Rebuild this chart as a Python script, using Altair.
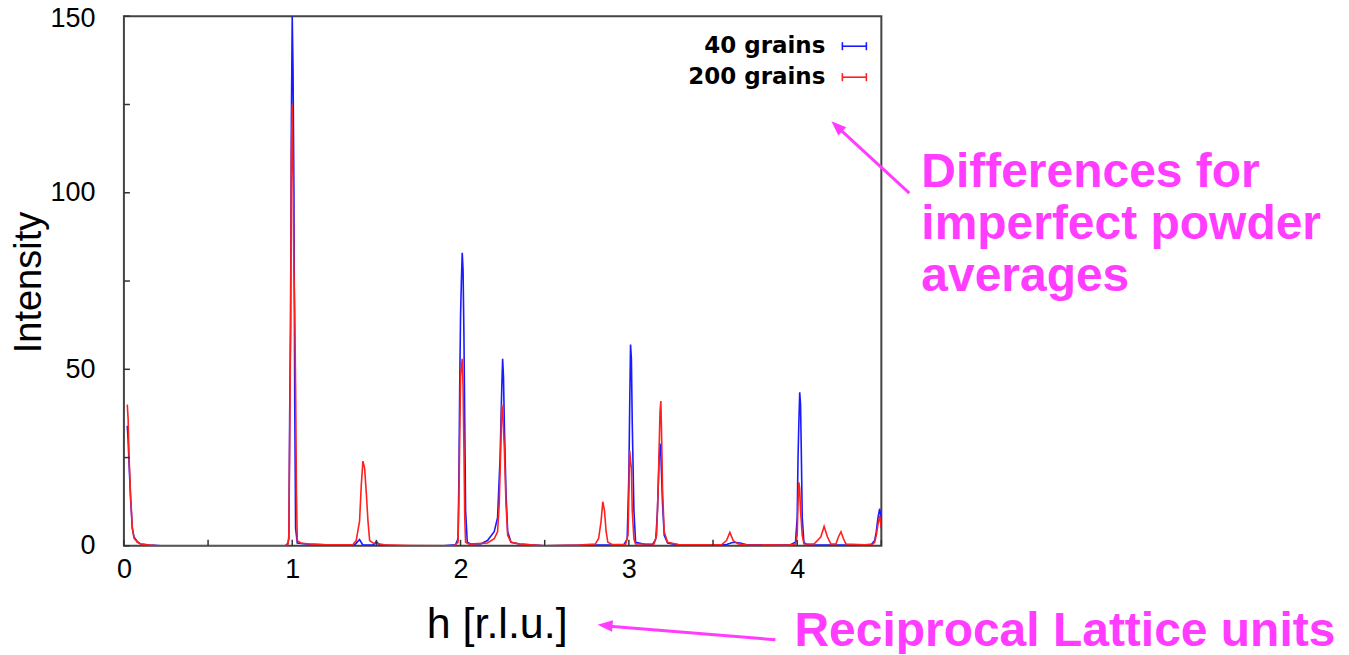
import altair as alt
import pandas as pd

series_names = ["40 grains", "200 grains"]
series_colors = ["#1a1aff", "#ff2020"]

# (h, intensity)
pts_40 = [(0.02,34),(0.025,30),(0.03,24),(0.04,13),(0.05,5),(0.06,2.5),(0.08,1.2),(0.1,0.5),(0.15,0.2),(0.22,0),(0.5,0),
          (0.96,0),(0.975,0.8),(0.98,2),(0.985,38),(0.99,62),(0.995,121),(1.0,150),(1.005,134),(1.01,101),(1.015,40),(1.02,5),
          (1.03,0.8),(1.08,0.5),(1.2,0.3),(1.37,0.2),(1.40,1.8),(1.42,0.2),(1.48,0.2),(1.50,1.2),(1.52,0.2),(1.6,0),(1.9,0),
          (1.97,0.3),(1.985,2),(1.99,18),(1.995,45),(2.0,65),(2.005,75),(2.01,83),(2.015,78),(2.02,60),(2.025,35),(2.03,10),
          (2.04,1),(2.06,0.5),(2.12,0.5),(2.16,1.5),(2.2,4),(2.22,8),(2.235,25),(2.245,45),(2.25,53),(2.255,48),(2.26,35),
          (2.27,15),(2.28,4),(2.3,1),(2.35,0.5),(2.5,0),(2.8,0.2),(2.97,0.3),(2.99,2),(3.0,20),(3.005,40),(3.01,57),(3.015,53),
          (3.02,35),(3.03,10),(3.04,1),(3.1,0.4),(3.14,0.3),(3.16,2),(3.17,10),(3.18,25),(3.185,29),(3.19,26),(3.2,12),(3.21,3),
          (3.23,0.8),(3.3,0.2),(3.55,0.2),(3.58,0.4),(3.62,1.0),(3.66,0.8),(3.7,0.3),(3.96,0.3),(3.99,1),(4.0,8),(4.005,25),
          (4.01,35),(4.015,43.5),(4.02,40),(4.025,25),(4.03,8),(4.04,1),(4.06,0.3),(4.2,0.2),(4.44,0.3),(4.46,1.5),(4.47,4),
          (4.48,8),(4.49,10.5),(4.495,9),(4.5,5)]

pts_200 = [(0.02,40),(0.025,36),(0.03,26),(0.04,14),(0.05,5),(0.06,2.2),(0.08,1),(0.1,0.5),(0.15,0.2),(0.2,0),(0.96,0),
           (0.975,0.5),(0.98,3),(0.985,30),(0.99,60),(0.995,111),(1.0,125),(1.005,103),(1.01,78),(1.015,66),(1.02,45),(1.025,15),
           (1.03,1.5),(1.05,0.8),(1.1,0.5),(1.2,0.3),(1.36,0.3),(1.38,1.5),(1.40,7),(1.41,17),(1.42,24),(1.43,22),(1.44,15),
           (1.45,7),(1.46,1.5),(1.48,0.8),(1.55,0.3),(1.7,0.1),(1.96,0),(1.985,1),(1.99,12),(1.995,30),(2.0,48),(2.01,53),
           (2.015,45),(2.02,28),(2.025,8),(2.03,1),(2.05,0.5),(2.16,0.8),(2.2,2),(2.22,4),(2.23,12),(2.24,30),(2.245,40),
           (2.25,38),(2.26,28),(2.27,12),(2.28,3),(2.3,1),(2.35,0.5),(2.5,0),(2.7,0.2),(2.8,0.5),(2.82,2),(2.835,7),(2.845,12.5),
           (2.855,10),(2.865,4),(2.875,1),(2.9,0.4),(2.98,0.4),(2.995,3),(3.0,15),(3.005,27),(3.01,24),(3.015,22),(3.02,10),
           (3.03,2),(3.04,0.5),(3.15,0.5),(3.165,3),(3.175,18),(3.185,38),(3.19,41),(3.195,30),(3.2,16),(3.21,4),(3.23,1),
           (3.3,0.3),(3.55,0.3),(3.58,1.5),(3.6,3.8),(3.62,1.5),(3.65,0.5),(3.7,0.3),(3.95,0.2),(3.99,0.5),(4.0,3),(4.005,12),
           (4.01,18),(4.015,16),(4.02,10),(4.03,3),(4.04,0.5),(4.1,0.5),(4.14,2.5),(4.16,5.5),(4.18,2.5),(4.2,0.5),(4.23,0.5),
           (4.245,2.5),(4.26,4),(4.275,2),(4.29,0.5),(4.4,0.3),(4.45,0.5),(4.46,1),(4.47,3),(4.48,6),(4.49,8.5),(4.5,5)]

x_label_ticks = [0, 1, 2, 3, 4]
x_all_ticks = [0, 0.5, 1, 1.5, 2, 2.5, 3, 3.5, 4, 4.5]
y_label_ticks = [0, 50, 100, 150]
y_all_ticks = [0, 25, 50, 75, 100, 125, 150]

annot_right = ["Differences for", "imperfect powder", "averages"]
annot_bottom = "Reciprocal Lattice units"
MAGENTA = "#ff3cff"

rows = []
for name, pts in zip(series_names, [pts_40, pts_200]):
    for h, v in pts:
        rows.append({"h": h, "I": v, "series": name})
df = pd.DataFrame(rows)

W, H = 758, 530
xs = alt.Scale(domain=[0, 4.5], nice=False, zero=False)
ys = alt.Scale(domain=[0, 150], nice=False)

x_axis = alt.Axis(
    values=x_label_ticks, title="h [r.l.u.]", ticks=False, domain=False, grid=False,
    labelFont="Liberation Sans", labelFontSize=27, labelPadding=11, labelColor="black",
    labelFlush=False, labelOverlap=False,
    titleFont="Liberation Sans", titleFontSize=43, titleFontWeight="normal", titleColor="black",
    titleX=373, titleY=79, titleBaseline="middle", titleAlign="center")
y_axis = alt.Axis(
    values=y_label_ticks, title="Intensity", ticks=False, domain=False, grid=False,
    labelFont="Liberation Sans", labelFontSize=27, labelPadding=29, labelColor="black",
    labelFlush=False, labelOverlap=False,
    labelOffset={"condition": {"test": "datum.value == 150", "value": 2}, "value": 0},
    titleFont="Liberation Sans", titleFontSize=38, titleFontWeight="normal", titleColor="black",
    titleX=-94, titleY=266, titleBaseline="middle", titleAlign="center", titleAngle=-90)

lines = alt.Chart(df).mark_line(strokeWidth=1.6, clip=True).encode(
    x=alt.X("h:Q", scale=xs, axis=x_axis, title="h [r.l.u.]"),
    y=alt.Y("I:Q", scale=ys, axis=y_axis, title="Intensity"),
    color=alt.Color("series:N", scale=alt.Scale(domain=series_names, range=series_colors), legend=None),
    order=alt.Order("h:Q"),
)

yt = alt.Chart(pd.DataFrame({"I": y_all_ticks})).mark_rule(color="#333", strokeWidth=1.5).encode(
    y=alt.Y("I:Q", scale=ys, axis=y_axis, title="Intensity"), x=alt.value(0), x2=alt.value(6))
xt = alt.Chart(pd.DataFrame({"h": x_all_ticks})).mark_rule(color="#333", strokeWidth=1.5).encode(
    x=alt.X("h:Q", scale=xs, axis=x_axis, title="h [r.l.u.]"), y=alt.value(H), y2=alt.value(H - 6))

legend_layers = []
for i, (name, col) in enumerate(zip(series_names, series_colors)):
    yy = 30 + 31 * i
    d = pd.DataFrame({"name": [name]})
    legend_layers.append(alt.Chart(d).mark_text(align="right", baseline="middle", font="DejaVu Sans",
                                                fontWeight="bold", fontSize=23, color="black").encode(
        text="name:N", x=alt.value(702), y=alt.value(yy)))
    legend_layers.append(alt.Chart(d).mark_rule(color=col, strokeWidth=1.6).encode(
        x=alt.value(719), x2=alt.value(743), y=alt.value(yy)))
    for xx in (719, 743):
        legend_layers.append(alt.Chart(d).mark_rule(color=col, strokeWidth=1.6).encode(
            x=alt.value(xx), y=alt.value(yy - 4), y2=alt.value(yy + 4)))

ann_df = pd.DataFrame({"t": [0]})
ann1 = alt.Chart(ann_df).mark_text(text=annot_right, align="left", baseline="alphabetic", font="Liberation Sans",
                                   fontWeight="bold", fontSize=48, lineHeight=52, color=MAGENTA).encode(
    x=alt.value(798), y=alt.value(171))
ann2 = alt.Chart(ann_df).mark_text(text=annot_bottom, align="left", baseline="alphabetic", font="Liberation Sans",
                                   fontWeight="bold", fontSize=48, color=MAGENTA).encode(
    x=alt.value(671), y=alt.value(630))
arrow1 = alt.Chart(ann_df).mark_rule(color=MAGENTA, strokeWidth=3).encode(
    x=alt.value(786), x2=alt.value(712), y=alt.value(177), y2=alt.value(109))
arrow2 = alt.Chart(ann_df).mark_rule(color=MAGENTA, strokeWidth=3).encode(
    x=alt.value(652), x2=alt.value(480), y=alt.value(624), y2=alt.value(610))
head_shape = "M0,0L-0.38,1L0.38,1Z"
head1 = alt.Chart(ann_df).mark_point(shape=head_shape, filled=True, size=900, angle=313.4,
                                     color=MAGENTA, opacity=1).encode(x=alt.value(708), y=alt.value(105))
head2 = alt.Chart(ann_df).mark_point(shape=head_shape, filled=True, size=900, angle=274.8,
                                     color=MAGENTA, opacity=1).encode(x=alt.value(474), y=alt.value(609))

chart = alt.layer(lines, yt, xt, *legend_layers, ann1, ann2, arrow1, arrow2, head1, head2).properties(
    width=W, height=H,
    padding={"left": 116, "top": 8, "right": 460, "bottom": 108},
    autosize=alt.AutoSizeParams(type="none"),
    background="white",
).configure_view(stroke="#444", strokeWidth=2)

chart.save("out.html", embed_options={"renderer": "svg", "actions": False})
